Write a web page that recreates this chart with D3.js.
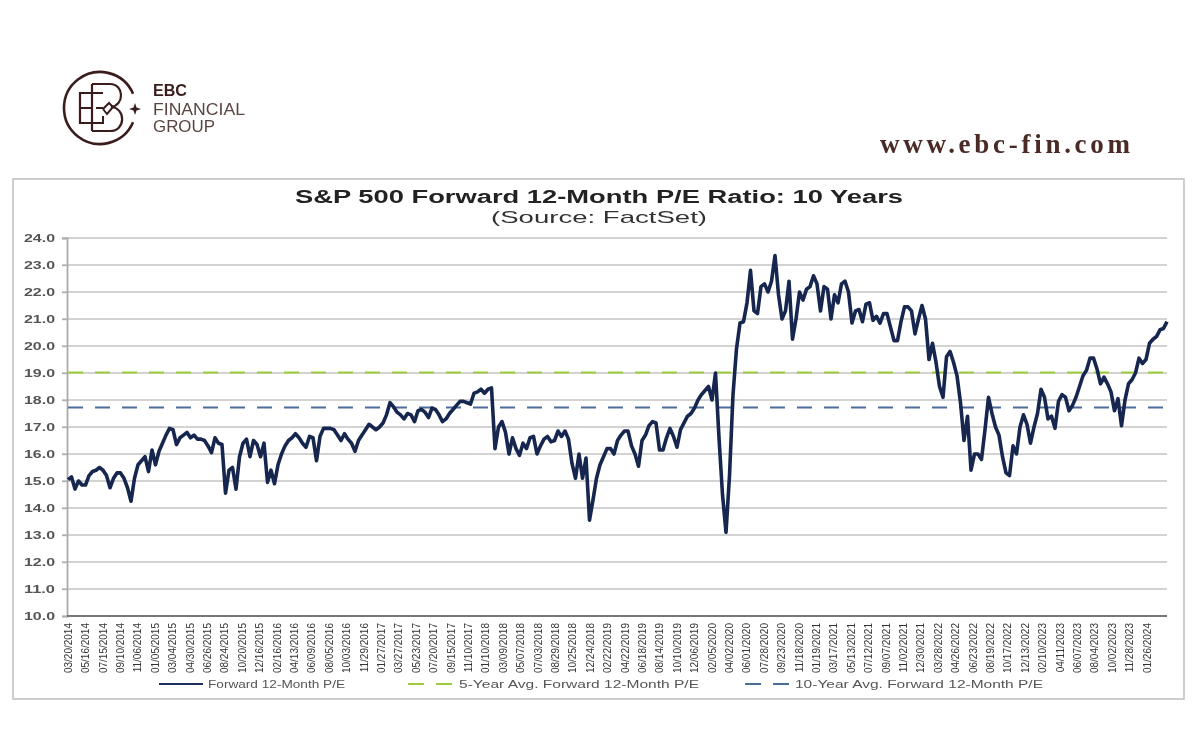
<!DOCTYPE html>
<html lang="en">

<head>
  <meta charset="UTF-8" />
  <script src="https://d3js.org/d3.v7.min.js"></script>
  <title>S&amp;P 500 Forward 12-Month P/E Ratio: 10 Years</title>
  <style>
    html, body { margin: 0; padding: 0; background: #fff; }
    svg { display: block; }
    text { font-family: "Liberation Sans", Arial, sans-serif; }
  </style>
</head>

<body>
  <svg width="1200" height="752"></svg>

  <script>
    // Date labels on the x axis
    const dateLabels = [
      "03/20/2014", "05/16/2014", "07/15/2014", "09/10/2014", "11/06/2014", "01/05/2015", "03/04/2015",
      "04/30/2015", "06/26/2015", "08/24/2015", "10/20/2015", "12/16/2015", "02/16/2016", "04/13/2016",
      "06/09/2016", "08/05/2016", "10/03/2016", "11/29/2016", "01/27/2017", "03/27/2017", "05/23/2017",
      "07/20/2017", "09/15/2017", "11/10/2017", "01/10/2018", "03/09/2018", "05/07/2018", "07/03/2018",
      "08/29/2018", "10/25/2018", "12/24/2018", "02/22/2019", "04/22/2019", "06/18/2019", "08/14/2019",
      "10/10/2019", "12/06/2019", "02/05/2020", "04/02/2020", "06/01/2020", "07/28/2020", "09/23/2020",
      "11/18/2020", "01/19/2021", "03/17/2021", "05/13/2021", "07/12/2021", "09/07/2021", "11/02/2021",
      "12/30/2021", "03/28/2022", "04/26/2022", "06/23/2022", "08/19/2022", "10/17/2022", "12/13/2022",
      "02/10/2023", "04/11/2023", "06/07/2023", "08/04/2023", "10/02/2023", "11/28/2023", "01/26/2024"
    ];

    const yTicks = [10, 11, 12, 13, 14, 15, 16, 17, 18, 19, 20, 21, 22, 23, 24];

    // Forward P/E
    const forwardPE = [
      15.05, 15.15, 14.7, 15.0, 14.85, 14.85, 15.2, 15.35, 15.4, 15.5, 15.4, 15.2, 14.75, 15.1, 15.3, 15.3, 15.1, 14.75, 14.25, 15.1,
      15.6, 15.75, 15.9, 15.35, 16.15, 15.6, 16.1, 16.4, 16.7, 16.95, 16.9, 16.35, 16.6, 16.7, 16.8, 16.6, 16.7, 16.55, 16.55, 16.5,
      16.3, 16.05, 16.6, 16.4, 16.35, 14.55, 15.4, 15.5, 14.7, 15.9, 16.4, 16.55, 15.9, 16.5, 16.35, 15.9, 16.4, 14.95, 15.4, 14.9,
      15.6, 16.0, 16.3, 16.5, 16.6, 16.75, 16.6, 16.4, 16.25, 16.65, 16.6, 15.75, 16.65, 16.95, 16.95, 16.95, 16.9, 16.7, 16.5, 16.75,
      16.55, 16.4, 16.1, 16.5, 16.7, 16.9, 17.1, 17.0, 16.9, 17.0, 17.15, 17.45, 17.9, 17.75, 17.55, 17.45, 17.3, 17.5, 17.45, 17.2,
      17.6, 17.65, 17.55, 17.35, 17.7, 17.65, 17.45, 17.2, 17.3, 17.5, 17.65, 17.8, 17.95, 17.95, 17.9, 17.85, 18.25, 18.3, 18.4, 18.25,
      18.4, 18.45, 16.2, 17.0, 17.2, 16.8, 16.0, 16.6, 16.2, 15.95, 16.4, 16.2, 16.6, 16.65, 16.0, 16.3, 16.55, 16.65, 16.45, 16.5,
      16.85, 16.65, 16.85, 16.55, 15.65, 15.1, 16.0, 15.1, 15.85, 13.55, 14.3, 15.1, 15.6, 15.9, 16.2, 16.2, 16.0, 16.5, 16.7, 16.85,
      16.85, 16.3, 16.0, 15.55, 16.5, 16.7, 17.05, 17.2, 17.15, 16.15, 16.15, 16.6, 16.95, 16.65, 16.25, 16.9, 17.15, 17.4, 17.5, 17.7,
      18.0, 18.2, 18.35, 18.5, 18.0, 19.0, 16.6, 14.5, 13.1, 15.2, 18.2, 19.9, 20.85, 20.9, 21.6, 22.8, 21.3, 21.2, 22.2, 22.3,
      22.0, 22.4, 23.35, 21.9, 21.0, 21.3, 22.4, 20.25, 21.0, 22.0, 21.7, 22.1, 22.2, 22.6, 22.3, 21.3, 22.2, 22.1, 21.0, 21.9,
      21.6, 22.3, 22.4, 22.0, 20.85, 21.3, 21.35, 20.9, 21.55, 21.6, 20.95, 21.1, 20.85, 21.2, 21.2, 20.7, 20.2, 20.2, 20.9, 21.45,
      21.45, 21.3, 20.45, 21.0, 21.5, 21.0, 19.5, 20.1, 19.4, 18.5, 18.1, 19.6, 19.8, 19.4, 18.9, 17.9, 16.5, 17.4, 15.4, 16.0,
      16.0, 15.8, 16.9, 18.1, 17.5, 17.0, 16.7, 15.9, 15.3, 15.2, 16.3, 16.0, 17.0, 17.45, 17.1, 16.4, 17.0, 17.5, 18.4, 18.1,
      17.3, 17.4, 16.95, 17.95, 18.2, 18.1, 17.6, 17.8, 18.1, 18.5, 18.9, 19.1, 19.55, 19.55, 19.15, 18.6, 18.85, 18.6, 18.3, 17.6,
      18.05, 17.05, 18.0, 18.6, 18.75, 19.0, 19.55, 19.35, 19.5, 20.1, 20.25, 20.35, 20.6, 20.65, 20.9
    ];

    const avg5Year = 19.02;
    const avg10Year = 17.72;

    const root = d3.select("svg");

    // The reference is a soft, scaled-up bitmap
    root.append("defs").append("filter")
      .attr("id", "soft")
      .attr("filterUnits", "userSpaceOnUse")
      .attr("x", 0).attr("y", 0)
      .attr("width", 1200).attr("height", 752)
      .append("feGaussianBlur")
      .attr("stdDeviation", 0.45);

    const svg = root.append("g").attr("filter", "url(#soft)");

    const xScale = d3.scaleLinear()
      .domain([0, forwardPE.length - 1])
      .range([68, 1167]);

    const dateScale = d3.scalePoint()
      .domain(dateLabels)
      .range([68, 1147]);

    const yScale = d3.scaleLinear()
      .domain([10, 24])
      .range([616, 238]);

    // Chart frame
    svg.append("rect")
      .attr("x", 13).attr("y", 179)
      .attr("width", 1171).attr("height", 520)
      .attr("fill", "#fff")
      .attr("stroke", "#bdbdbd")
      .attr("stroke-width", 1.5);

    // Titles
    svg.append("text")
      .attr("x", 295).attr("y", 203)
      .attr("font-size", 18)
      .attr("font-weight", "bold")
      .attr("fill", "#222")
      .attr("textLength", 608)
      .attr("lengthAdjust", "spacingAndGlyphs")
      .text("S&P 500 Forward 12-Month P/E Ratio: 10 Years");

    svg.append("text")
      .attr("x", 491).attr("y", 223)
      .attr("font-size", 17)
      .attr("fill", "#333")
      .attr("textLength", 216)
      .attr("lengthAdjust", "spacingAndGlyphs")
      .text("(Source: FactSet)");

    // Horizontal grid
    svg.append("g")
      .selectAll("line")
      .data(yTicks.slice(1))
      .enter()
      .append("line")
      .attr("x1", 62)
      .attr("x2", 1167)
      .attr("y1", d => yScale(d))
      .attr("y2", d => yScale(d))
      .attr("stroke", "#c4c4c4")
      .attr("stroke-width", 1.4);

    // Y axis
    const yAxis = svg.append("g")
      .attr("transform", "translate(67,0)")
      .call(d3.axisLeft(yScale).tickValues(yTicks).tickFormat(d3.format(".1f")).tickSize(5).tickPadding(7));
    yAxis.selectAll("text")
      .attr("font-size", 10)
      .attr("font-family", "Liberation Sans")
      .attr("font-weight", "bold")
      .attr("fill", "#555")
      .attr("textLength", 31)
      .attr("lengthAdjust", "spacingAndGlyphs");
    yAxis.selectAll("line").attr("stroke", "#b0b0b0").attr("stroke-width", 1.4);
    yAxis.select(".domain").attr("stroke", "#aaa").attr("stroke-width", 1.8);

    // X axis
    const xAxis = svg.append("g")
      .attr("transform", "translate(0,616)")
      .call(d3.axisBottom(dateScale).tickSize(0));
    xAxis.select(".domain").attr("stroke", "#777").attr("stroke-width", 2.2);
    xAxis.select(".domain").attr("d", "M67,0H1167");
    xAxis.selectAll("text")
      .attr("font-size", 10)
      .attr("font-family", "Liberation Sans")
      .attr("fill", "#333")
      .attr("text-anchor", "end")
      .attr("transform", "rotate(-90)")
      .attr("x", -7)
      .attr("y", 0)
      .attr("dy", "0.32em");

    // Average lines
    const avgLines = [
      { value: avg5Year, color: "#9ccb3b" },
      { value: avg10Year, color: "#4d6c9c" }
    ];
    svg.append("g")
      .selectAll("line")
      .data(avgLines)
      .enter()
      .append("line")
      .attr("x1", xScale(0))
      .attr("x2", 1167)
      .attr("y1", d => yScale(d.value))
      .attr("y2", d => yScale(d.value))
      .attr("stroke", d => d.color)
      .attr("stroke-width", 2)
      .attr("stroke-dasharray", "15 12");

    // P/E line
    const line = d3.line()
      .x((d, i) => xScale(i))
      .y(d => yScale(d));

    svg.append("path")
      .datum(forwardPE)
      .attr("d", line)
      .attr("fill", "none")
      .attr("stroke", "#14284f")
      .attr("stroke-width", 3.6)
      .attr("stroke-linejoin", "round");

    // Legend
    const legend = svg.append("g");
    const legendItems = [
      { label: "Forward 12-Month P/E", color: "#1b2f5e", x1: 159, x2: 203, dash: null, tx: 208, tl: 137 },
      { label: "5-Year Avg. Forward 12-Month P/E", color: "#9ccb3b", x1: 408, x2: 452, dash: "16 12", tx: 459, tl: 240 },
      { label: "10-Year Avg. Forward 12-Month P/E", color: "#4d6c9c", x1: 745, x2: 789, dash: "16 12", tx: 795, tl: 248 }
    ];
    legendItems.forEach(d => {
      legend.append("line")
        .attr("x1", d.x1).attr("x2", d.x2)
        .attr("y1", 684).attr("y2", 684)
        .attr("stroke", d.color)
        .attr("stroke-width", 2.2)
        .attr("stroke-dasharray", d.dash);
      legend.append("text")
        .attr("x", d.tx).attr("y", 688)
        .attr("font-size", 11)
        .attr("fill", "#555")
        .attr("textLength", d.tl)
        .attr("lengthAdjust", "spacingAndGlyphs")
        .text(d.label);
    });

    // Logo
    const logo = svg.append("g")
      .attr("fill", "none")
      .attr("stroke", "#3a1d1d");
    const arc = d3.arc().innerRadius(36).outerRadius(36);
    logo.append("path")
      .attr("transform", "translate(100,108)")
      .attr("stroke-width", 2.6)
      .attr("d", arc({ startAngle: Math.PI * 0.63, endAngle: Math.PI * 2.37 }));
    logo.append("path")
      .attr("stroke-width", 2.2)
      .attr("d", "M100 93H80V123H100M80 108H92M92 84V131M92 84H110C124 84 125 105 111 107C126 108 126 131 110 131H92");
    logo.append("path")
      .attr("stroke-width", 2)
      .attr("d", "M97 93H103M96 108H103M103 109L109 103L113 107L107 114L103 109M97 123H103V116");
    svg.append("path")
      .attr("fill", "#3a1d1d")
      .attr("d", "M135 103L136.5 107.5L141 109L136.5 110.5L135 115L133.5 110.5L129 109L133.5 107.5Z");

    const logoText = [
      { label: "EBC", y: 96, size: 16, weight: "bold", fill: "#3a1d1d", len: 34 },
      { label: "FINANCIAL", y: 115, size: 17, weight: "normal", fill: "#5a4542", len: 92 },
      { label: "GROUP", y: 132, size: 17, weight: "normal", fill: "#5a4542", len: 62 }
    ];
    svg.append("g")
      .selectAll("text")
      .data(logoText)
      .enter()
      .append("text")
      .attr("x", 153)
      .attr("y", d => d.y)
      .attr("font-size", d => d.size)
      .attr("font-weight", d => d.weight)
      .attr("fill", d => d.fill)
      .attr("textLength", d => d.len)
      .attr("lengthAdjust", "spacingAndGlyphs")
      .text(d => d.label);

    // Website
    svg.append("text")
      .attr("x", 880).attr("y", 153)
      .attr("font-size", 27)
      .attr("font-weight", "bold")
      .attr("fill", "#4a2a25")
      .attr("textLength", 250)
      .attr("lengthAdjust", "spacing")
      .style("font-family", "'Liberation Serif', serif")
      .text("www.ebc-fin.com");
  </script>
</body>

</html>
